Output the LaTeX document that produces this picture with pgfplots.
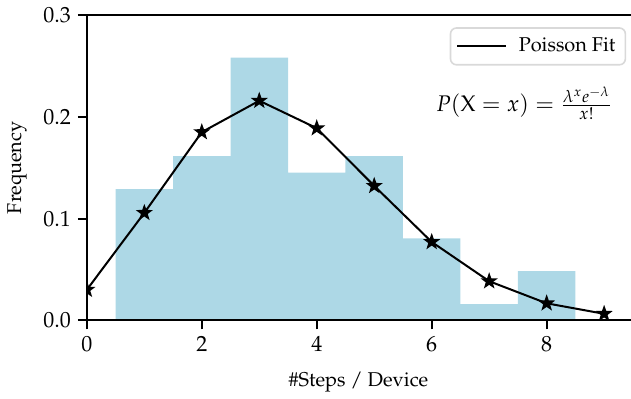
\documentclass[border=0pt]{standalone}
\usepackage[T1]{fontenc}
\usepackage{mathpazo}
\usepackage{pgfplots}
\pgfplotsset{compat=1.18}
\definecolor{lightblue}{RGB}{173,216,230}
\pgfdeclareplotmark{fstar}{%
  \pgfpathmoveto{\pgfpointpolar{90}{\pgfplotmarksize}}%
  \pgfpathlineto{\pgfpointpolar{126}{0.4\pgfplotmarksize}}%
  \pgfpathlineto{\pgfpointpolar{162}{\pgfplotmarksize}}%
  \pgfpathlineto{\pgfpointpolar{198}{0.4\pgfplotmarksize}}%
  \pgfpathlineto{\pgfpointpolar{234}{\pgfplotmarksize}}%
  \pgfpathlineto{\pgfpointpolar{270}{0.4\pgfplotmarksize}}%
  \pgfpathlineto{\pgfpointpolar{306}{\pgfplotmarksize}}%
  \pgfpathlineto{\pgfpointpolar{342}{0.4\pgfplotmarksize}}%
  \pgfpathlineto{\pgfpointpolar{18}{\pgfplotmarksize}}%
  \pgfpathlineto{\pgfpointpolar{54}{0.4\pgfplotmarksize}}%
  \pgfpathclose\pgfusepathqfillstroke}
\begin{document}
\begin{tikzpicture}
\begin{axis}[
  name=ax,
  scale only axis, width=272pt, height=153pt,
  xmin=0, xmax=9.45, ymin=0, ymax=0.3,
  axis line style={draw=none},
  clip marker paths=true,
  tick align=outside, xtick pos=bottom, ytick pos=left,
  xtick={0,2,4,6,8}, ytick={0,0.1,0.2,0.3},
  yticklabel style={/pgf/number format/.cd, fixed, fixed zerofill, precision=1},
  tick label style={font=\fontsize{11}{13}\selectfont},
  major tick length=4.5pt,
  tick style={black, line width=1pt},
  xlabel={\#Steps / Device}, ylabel={Frequency},
  xlabel style={yshift=-3pt},
  ylabel style={yshift=1.5pt},
  legend style={at={(0.993,0.96)}, anchor=north east, draw=black!15, rounded corners=3pt, line width=0.8pt, inner xsep=3pt, inner ysep=3pt},
  legend cell align=left,
]
\addplot[ybar interval, fill=lightblue, draw=none, forget plot] coordinates {
  (0.5,0.129032) (1.5,0.161290) (2.5,0.258065) (3.5,0.145161)
  (4.5,0.161290) (5.5,0.080645) (6.5,0.016129) (7.5,0.048387) (8.5,0.048387)};
\addplot[black, line width=1pt, mark=fstar, mark size=3pt,
  legend image code/.code={\draw[black, line width=1pt] (0cm,0cm) -- (0.85cm,0cm);}]
  coordinates {
  (0,0.030197) (1,0.105691) (2,0.184959) (3,0.215785) (4,0.188812)
  (5,0.132169) (6,0.077098) (7,0.038549) (8,0.016865) (9,0.006559)};
\addlegendentry{\hspace{4pt}Poisson Fit}
\node at (axis cs:7.61,0.2137) {\fontsize{11.3}{13}\selectfont $P(\mathrm{X}=x) = \frac{\lambda^x e^{-\lambda}}{x!}$};
\end{axis}
\draw[line width=1pt, line cap=rect] (ax.north east) -- (ax.north west) -- (ax.south west) -- (ax.south east);
\path ([xshift=-43.5pt,yshift=-39pt]ax.south west) -- ([yshift=7.5pt]ax.north west);
\end{tikzpicture}
\end{document}
